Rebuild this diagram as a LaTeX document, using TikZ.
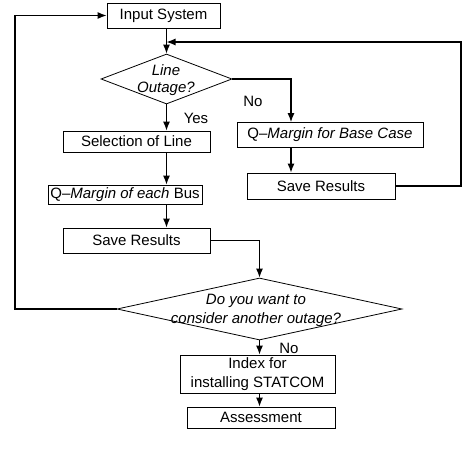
\documentclass[tikz,border=0pt]{standalone}
\usepackage{fontspec}
\setmainfont{Liberation Sans}
\usetikzlibrary{shapes.geometric,arrows.meta}

\begin{document}
\begin{tikzpicture}[x=1pt,y=-1pt,
  box/.style={draw,line width=0.8pt,inner sep=0pt,align=center,font=\fontsize{15}{19}\selectfont},
  dec/.style={draw,diamond,line width=0.8pt,inner sep=0pt},
  txt/.style={inner sep=0pt,align=center,font=\fontsize{15}{19}\selectfont},
  arr/.style={line width=1.2pt,-{Latex[length=9pt,width=7pt]}}]
\useasboundingbox (0,0) rectangle (464,461);
% boxes and decisions
\node[box,minimum width=113,minimum height=25] (inp) at (163.5,15.5) {Input System};
\node[dec,minimum width=131,minimum height=50] (q1) at (166.5,79) {};
\node[txt,font=\itshape\fontsize{15}{17}\selectfont] (q1t) at (166,80) {Line\\Outage?};
\node[box,minimum width=147,minimum height=21] (sel) at (136.5,141.5) {Selection of Line};
\node[box,minimum width=154,minimum height=19] (bus) at (125,194.5) {Q--\textit{Margin of each} Bus};
\node[box,minimum width=147,minimum height=25] (sav1) at (136.5,240.5) {Save Results};
\node[box,minimum width=186,minimum height=25] (base) at (330,135) {Q--\textit{Margin for Base Case}};
\node[box,minimum width=148,minimum height=26] (sav2) at (321,186) {Save Results};
\node[dec,minimum width=285,minimum height=62] (q2) at (259.5,309) {};
\node[txt,font=\itshape\fontsize{15}{19}\selectfont] (q2t) at (256,310) {Do you want to\\consider another outage?};
\node[box,minimum width=155,minimum height=38] (idx) at (257.5,374) {Index for\\installing STATCOM};
\node[box,minimum width=148,minimum height=21] (asm) at (261,417.5) {Assessment};
\node[txt] (yes) at (196,118) {Yes};
\node[txt] (no1) at (253,101) {No};
\node[txt] (no2) at (289,348) {No};
\coordinate (col) at (291,0);
\coordinate (rt) at (461,42);
\coordinate (lt) at (15,15.5);
% connectors
\draw[arr] (inp.south -| q1.north) -- (q1.north);
\draw[arr] (q1.south) -- (q1.south |- sel.north);
\draw[arr] (sel.south -| q1.south) -- (bus.north -| q1.south);
\draw[arr] (bus.south -| q1.south) -- (sav1.north -| q1.south);
\draw[arr] (q1.east) -| (base.north -| col);
\draw[arr] (base.south -| col) -- (sav2.north -| col);
\draw[arr] (sav2.east) -| (rt) -- (rt -| q1.north);
\draw[arr] (sav1.east) -| (q2.north);
\draw[arr] (q2.west) -| (lt) -- (inp.west);
\draw[arr] (q2.south) -- (q2.south |- idx.north);
\draw[arr] (idx.south -| q2.south) -- (asm.north -| q2.south);
\end{tikzpicture}
\end{document}
